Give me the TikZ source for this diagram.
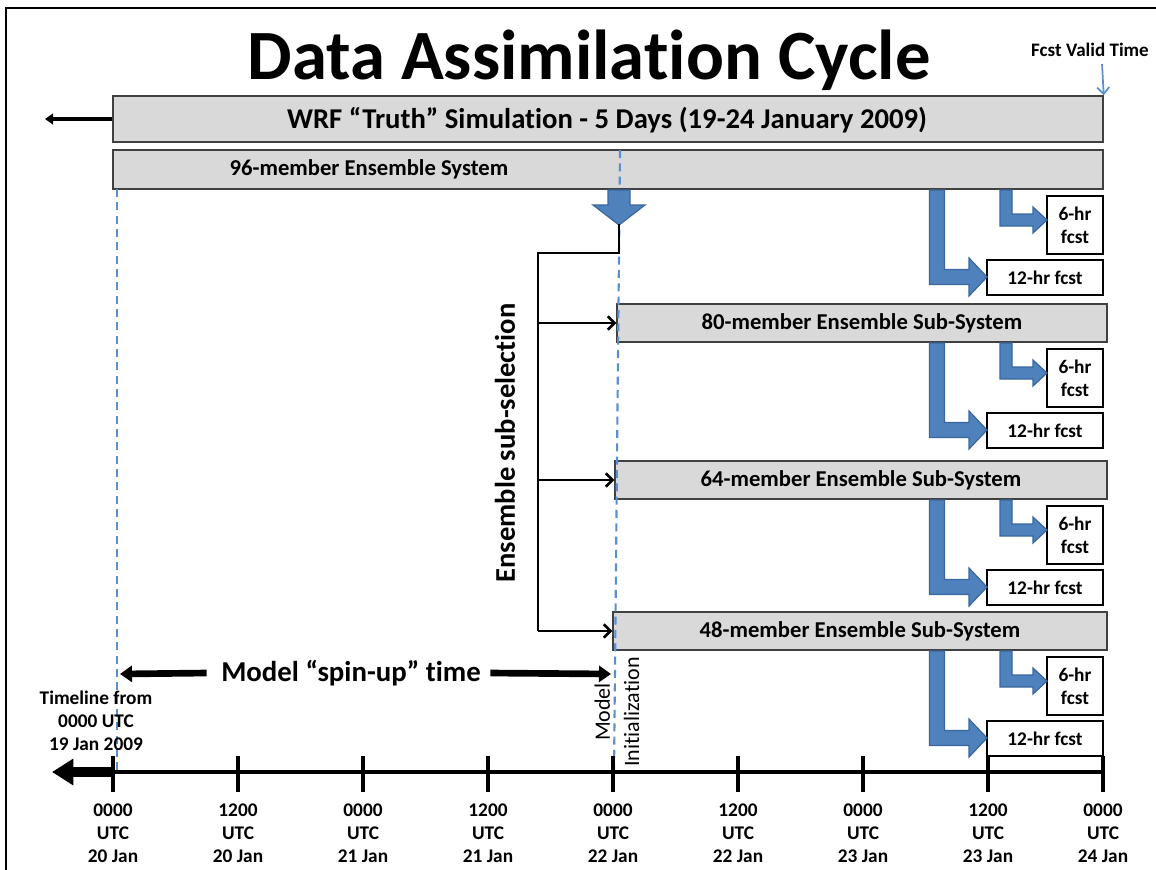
\documentclass[tikz,border=0pt]{standalone}
\usepackage{fontspec}
\setmainfont{Carlito}[Ligatures=NoCommon]
\usetikzlibrary{arrows.meta}
\definecolor{barfill}{HTML}{D9D9D9}
\definecolor{barline}{HTML}{404040}
\definecolor{dablue}{HTML}{4F81BD}
\definecolor{dablueedge}{HTML}{3A679C}
\definecolor{dashblue}{HTML}{5B8FD0}
\tikzset{
  bar/.style={draw=barline, fill=barfill, line width=1.1pt, inner sep=0pt},
  fcstbox/.style={draw=black, fill=white, line width=0.9pt, inner sep=0pt, align=center, font=\fontsize{14.5}{17.5}\selectfont\bfseries},
  blk/.style={fill=dablue, draw=dablueedge, line width=0.9pt, line join=miter},
  dashln/.style={dashblue, line width=1.6pt, dash pattern=on 6pt off 4pt},
  conn/.style={black, line width=1.9pt},
  selarrow/.style={conn, -{Straight Barb[length=5pt,width=10pt,line width=1.9pt]}},
  spin/.style={black, line width=5pt, -{Triangle[length=9pt,width=12pt]}},
  tick/.style={black, line width=2.4pt},
  ticklab/.style={align=center, font=\fontsize{14.5}{17.3}\selectfont\bfseries}
}
% L-shaped block arrow: #1 x of vertical, #2 top y, #3 bend y, #4 tip x, #5 half shaft, #6 half head, #7 head length
\newcommand{\Larr}[7]{%
  \filldraw[blk] ({#1-#5},#2) -- ({#1-#5},{#3+#5}) -- ({#4-#7},{#3+#5}) -- ({#4-#7},{#3+#6}) -- (#4,#3)
   -- ({#4-#7},{#3-#6}) -- ({#4-#7},{#3-#5}) -- ({#1+#5},{#3-#5}) -- ({#1+#5},#2) -- cycle;}
\begin{document}
\begin{tikzpicture}[x=0.75pt,y=-0.75pt, font=\bfseries]
\useasboundingbox (0,0) rectangle (1156,869);
% frame
\draw[line width=2.2pt] (6,880) -- (6,8) -- (1170,8);
% title
\node[font=\fontsize{53}{60}\selectfont\bfseries] (title) at (589,60) {Data Assimilation Cycle};
\node[font=\fontsize{14.3}{16}\selectfont\bfseries] (fvt) at (1090,50) {Fcst Valid Time};
% WRF bar
\node[bar, minimum width=742.5pt, minimum height=34.5pt] (wrf) at (608,119) {};
\node[font=\fontsize{21.5}{24}\selectfont\bfseries] (wrft) at (607,120) {WRF “Truth” Simulation - 5 Days (19-24 January 2009)};
\coordinate (wrfleft) at (45,119);
\draw[black, line width=3pt, -{Triangle[length=6pt,width=8pt]}] (wrf.west) -- (wrfleft);
\coordinate (fvtarr) at (1102,64);
\draw[dashblue, line width=1.3pt, -{Straight Barb[length=5pt,width=9pt,line width=1.3pt]}] (fvtarr) -- (wrf.north east);
% 96 bar
\node[bar, minimum width=742.5pt, minimum height=29.25pt] (e96) at (608,169.5) {};
\node[font=\fontsize{17}{20}\selectfont\bfseries] (e96t) at (369,169) {96-member Ensemble System};
% sub-system bars
\node[bar, minimum width=367.5pt, minimum height=28.5pt] (e80) at (862,323) {};
\node[font=\fontsize{17}{20}\selectfont\bfseries] at (e80) {80-member Ensemble Sub-System};
\node[bar, minimum width=369pt, minimum height=28.5pt] (e64) at (861,480) {};
\node[font=\fontsize{17}{20}\selectfont\bfseries] at (e64) {64-member Ensemble Sub-System};
\node[bar, minimum width=370.5pt, minimum height=28.5pt] (e48) at (860,631) {};
\node[font=\fontsize{17}{20}\selectfont\bfseries] at (e48) {48-member Ensemble Sub-System};
% forecast boxes and arrows
\foreach \b/\n in {189/a,342/b,499/c,650/d}{
  \node[fcstbox, minimum width=42pt, minimum height=43.5pt] (six\n) at (1075,{\b+36}) {6-hr\\fcst};
  \node[fcstbox, minimum width=87pt, minimum height=26.25pt] (twl\n) at (1045,{\b+88.5}) {12-hr fcst};
  \Larr{937}{\b+1}{\b+88}{987}{7.5}{19}{18}
  \Larr{1006}{\b+1}{\b+31}{1047}{6}{13}{14}
}
% dashed lines
\coordinate (d1top) at (117,189);
\coordinate (d1bot) at (117,772);
\draw[dashln] (d1top) -- (d1bot);
\coordinate (d2top) at (620,150);
\coordinate (d2bot) at (614,772);
\draw[dashln] (d2top) -- (d2bot);
% blue down arrow
\filldraw[blk] (608,190) -- (630,190) -- (630,205) -- (645,205) -- (619,225) -- (593,205) -- (608,205) -- cycle;
\coordinate (tip) at (619,224);
\coordinate (c1) at (619,253);
\coordinate (c2) at (538,253);
\coordinate (c3) at (538,631);
\draw[conn, line join=miter] (tip) -- (c1) -- (c2) -- (c3);
\draw[selarrow] (538,323) -- (e80.west);
\draw[selarrow] (538,480) -- (e64.west);
\draw[selarrow] (c3) -- (e48.west);
\node[rotate=90, font=\fontsize{21.4}{24}\selectfont\bfseries] (sel) at (505,443) {Ensemble sub-selection};
% spin-up
\node[font=\fontsize{21.6}{24}\selectfont\bfseries] (spin) at (351,673) {Model “spin-up” time};
\coordinate (sl) at (120,674);
\coordinate (sr) at (611,674);
\draw[spin] (spin.west) ++(-10,0) -- (sl);
\draw[spin] (spin.east) ++(5,0) -- (sr);
\node[rotate=90, align=center, font=\fontsize{16.5}{22}\selectfont\mdseries] (minit) at (617,712) {Model\\Initialization};
% timeline
\node[ticklab] (tlfrom) at (96,721) {Timeline from\\0000 UTC\\19 Jan 2009};
\coordinate (tl0) at (113,772);
\coordinate (tl1) at (1103,772);
\coordinate (tlarr) at (52,772);
\draw[tick] (tl0) -- (tl1);
\draw[black, line width=8pt, -{Triangle[length=16pt,width=19pt]}] (tl0) -- (tlarr);
\foreach \x/\t/\d in {113/0000/20,238/1200/20,363/0000/21,488/1200/21,613/0000/22,738/1200/22,863/0000/23,988/1200/23,1103/0000/24}{
  \draw[tick] (\x,756) -- (\x,792);
  \node[ticklab] at (\x,833) {\t\\UTC\\\d{} Jan};
}
\end{tikzpicture}
\end{document}
